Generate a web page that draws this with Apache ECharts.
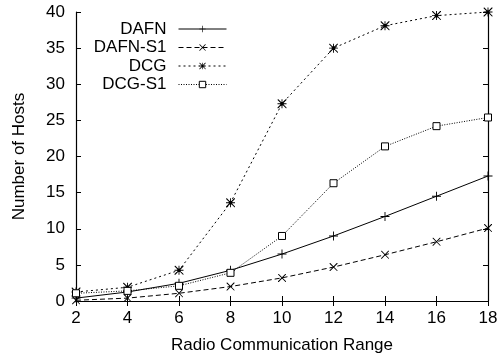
<!DOCTYPE html>
<html><head><meta charset="utf-8">
<script src="https://cdn.jsdelivr.net/npm/echarts@6/dist/echarts.min.js"></script>
<style>html,body{margin:0;padding:0;background:#fff}#c{width:504px;height:361px}</style>
</head><body><div id="c"></div>
<script>
const ranges = [2, 4, 6, 8, 10, 12, 14, 16, 18];
const dafn   = [0.4, 1.25, 2.45, 4.25, 6.5, 9.0, 11.7, 14.5, 17.3];
const dafnS1 = [0.1, 0.4, 1.07, 2.0, 3.2, 4.7, 6.4, 8.2, 10.1];
const dcg    = [1.25, 1.9, 4.25, 13.6, 27.3, 35.0, 38.1, 39.5, 40.0];
const dcgS1  = [1.07, 1.4, 2.1, 3.9, 9.0, 16.3, 21.4, 24.2, 25.4];
const names = ['DAFN', 'DAFN-S1', 'DCG', 'DCG-S1'];
const yTicks = [0, 5, 10, 15, 20, 25, 30, 35, 40];

const FONT = 'Liberation Sans';
const FS = 17;
const plus = 'path://M-1,-0.1 L1,-0.1 L1,0.1 L-1,0.1 Z M-0.1,-1 L0.1,-1 L0.1,1 L-0.1,1 Z';
const cross = 'path://M-0.92,-1 L-0.8,-1 L1,0.85 L1,1 L0.88,1 L-1,-0.85 Z M0.8,-1 L1,-1 L1,-0.85 L-0.8,1 L-1,1 L-1,0.85 Z';
const star = 'path://M-1,-0.1 L1,-0.1 L1,0.1 L-1,0.1 Z M-0.1,-1 L0.1,-1 L0.1,1 L-0.1,1 Z M-0.92,-1 L-0.8,-1 L1,0.85 L1,1 L0.88,1 L-1,-0.85 Z M0.8,-1 L1,-1 L1,-0.85 L-0.8,1 L-1,1 L-1,0.85 Z M-0.4,-0.4 L0.4,-0.4 L0.4,0.4 L-0.4,0.4 Z';
const ltypes = ['solid', [5, 3], [2, 3], [1, 1.5]];

function mk(name, vals, sym, size, ltype, symStyle) {
  return {
    name, type: 'line', data: ranges.map((x, i) => [x, vals[i]]),
    symbol: sym, symbolSize: size, showAllSymbol: true,
    lineStyle: { color: '#000', width: 1, type: ltype },
    itemStyle: symStyle, emphasis: { disabled: true }, z: 3
  };
}
const series = [
  mk(names[0], dafn, plus, 9, ltypes[0], { color: '#000' }),
  mk(names[1], dafnS1, cross, 8, ltypes[1], { color: '#000' }),
  mk(names[2], dcg, star, 9, ltypes[2], { color: '#000' }),
  mk(names[3], dcgS1, 'rect', 7, ltypes[3], { color: '#fff', borderColor: '#000', borderWidth: 1 })
];
const rowTop = [20.5, 39, 57.5, 76];
const legends = names.map((n, i) => ({
  data: [n], orient: 'vertical', right: 277, top: rowTop[i], align: 'right',
  padding: 0, itemWidth: 48, itemHeight: 8, itemGap: 0, selectedMode: false,
  lineStyle: { width: 1, color: '#000', type: ltypes[i] },
  itemStyle: i === 3 ? { borderWidth: 1, borderColor: '#000', color: '#fff' } : { color: '#000' },
  textStyle: { fontFamily: FONT, fontSize: FS, color: '#000', padding: [0, 7, 0, 0] }
}));
const axLine = { show: true, lineStyle: { color: '#000', width: 1.2 } };
const tick = { show: true, inside: true, length: 5, lineStyle: { color: '#000', width: 1 } };
const lbl = { fontFamily: FONT, fontSize: FS, color: '#000' };
const opt = {
  animation: false,
  grid: { left: 76, right: 16, top: 12, bottom: 60, containLabel: false },
  legend: legends,
  xAxis: [
    { type: 'value', min: 2, max: 18, interval: 2, position: 'bottom',
      name: 'Radio Communication Range', nameLocation: 'middle', nameGap: 36,
      nameTextStyle: lbl,
      axisLine: axLine, axisTick: tick, splitLine: { show: false },
      axisLabel: Object.assign({ margin: 9 }, lbl) },
    { type: 'value', min: 2, max: 18, interval: 2, position: 'top',
      axisLine: axLine, axisTick: tick, splitLine: { show: false }, axisLabel: { show: false } }
  ],
  yAxis: [
    { type: 'value', min: yTicks[0], max: yTicks[yTicks.length - 1], interval: 5, position: 'left',
      name: 'Number of Hosts', nameLocation: 'middle', nameGap: 48,
      nameTextStyle: lbl,
      axisLine: axLine, axisTick: tick, splitLine: { show: false },
      axisLabel: Object.assign({ margin: 11 }, lbl) },
    { type: 'value', min: yTicks[0], max: yTicks[yTicks.length - 1], interval: 5, position: 'right',
      axisLine: axLine, axisTick: tick, splitLine: { show: false }, axisLabel: { show: false } }
  ],
  series
};
const ch = echarts.init(document.getElementById('c'), null, { renderer: 'canvas' });
ch.setOption(opt);
</script></body></html>
